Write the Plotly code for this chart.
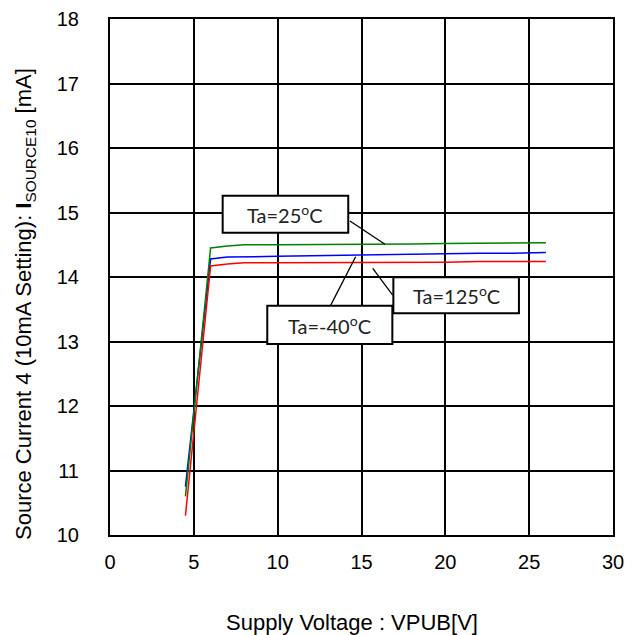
import plotly.graph_objects as go

vpub = [4.5, 6, 7, 8, 10, 12, 14, 16, 18, 20, 22, 24, 26]
i_25 = [10.6, 14.45, 14.48, 14.50, 14.50, 14.50, 14.51, 14.51, 14.51, 14.52, 14.52, 14.53, 14.53]
i_m40 = [10.75, 14.28, 14.31, 14.31, 14.32, 14.33, 14.34, 14.35, 14.35, 14.36, 14.37, 14.37, 14.38]
i_125 = [10.3, 14.17, 14.20, 14.22, 14.22, 14.22, 14.23, 14.23, 14.23, 14.23, 14.24, 14.24, 14.24]

x_ticks = [0, 5, 10, 15, 20, 25, 30]
y_ticks = [10, 11, 12, 13, 14, 15, 16, 17, 18]

series = [
    ("Ta=-40°C", i_m40, "#0000FF"),
    ("Ta=125°C", i_125, "#FF0000"),
    ("Ta=25°C", i_25, "#008000"),
]

fig = go.Figure()
for name, ys, col in series:
    fig.add_trace(go.Scatter(x=vpub, y=ys, mode="lines", name=name,
                             line=dict(color=col, width=1.5), showlegend=False))

FONT = "Liberation Sans, Arial, sans-serif"
BOXFONT = "Lato, Open Sans, sans-serif"

# label boxes: (text, x0, x1, y0, y1, leader line)
boxes = [
    ("Ta=25<sup>o</sup>C", 6.72, 14.21, 14.687, 15.26, (14.31, 14.868, 16.40, 14.507)),
    ("Ta=125<sup>o</sup>C", 16.90, 24.39, 13.437, 13.995, (15.67, 14.135, 16.86, 13.72)),
    ("Ta=-40<sup>o</sup>C", 9.38, 16.84, 12.961, 13.555, (13.12, 13.54, 14.65, 14.315)),
]
shapes = []
annotations = []
for text, x0, x1, y0, y1, (lx0, ly0, lx1, ly1) in boxes:
    shapes.append(dict(type="line", x0=lx0, y0=ly0, x1=lx1, y1=ly1, xref="x", yref="y",
                       line=dict(color="black", width=1.3)))
    shapes.append(dict(type="rect", x0=x0, x1=x1, y0=y0, y1=y1, xref="x", yref="y",
                       line=dict(color="black", width=2), fillcolor="white"))
    annotations.append(dict(text=text, x=(x0 + x1) / 2, y=(y0 + y1) / 2, xref="x", yref="y",
                            showarrow=False, font=dict(family=BOXFONT, size=20, color="#222")))

annotations.append(dict(text="Supply Voltage : VPUB[V]", xref="paper", yref="paper",
                        x=(352 - 110) / 503, y=-(622 - 535) / 516, showarrow=False,
                        font=dict(family=FONT, size=22, color="black"),
                        xanchor="center", yanchor="middle"))
annotations.append(dict(text="Source Current 4 (10mA Setting): <b>I</b><sub>SOURCE10</sub> [mA]",
                        xref="paper", yref="paper", textangle=-90,
                        x=-(110 - 25) / 503, y=(535 - 304) / 516, showarrow=False,
                        font=dict(family=FONT, size=22, color="black"),
                        xanchor="center", yanchor="middle"))

fig.update_layout(
    width=628, height=627,
    margin=dict(l=102, r=23, t=11, b=100),
    paper_bgcolor="white", plot_bgcolor="white",
    shapes=shapes, annotations=annotations,
    xaxis=dict(range=[0, 30], tickvals=x_ticks, showgrid=True, gridcolor="black", gridwidth=1.5,
               showline=True, linecolor="black", linewidth=2, mirror=True, zeroline=False,
               ticks="", ticklabelstandoff=8, automargin=False,
               tickfont=dict(family=FONT, size=20, color="black")),
    yaxis=dict(range=[10, 18], tickvals=y_ticks, showgrid=True, gridcolor="black", gridwidth=1.5,
               showline=True, linecolor="black", linewidth=2, mirror=True, zeroline=False,
               ticks="", ticklabelstandoff=25, automargin=False,
               tickfont=dict(family=FONT, size=20, color="black")),
)

fig.write_html("out.html")
